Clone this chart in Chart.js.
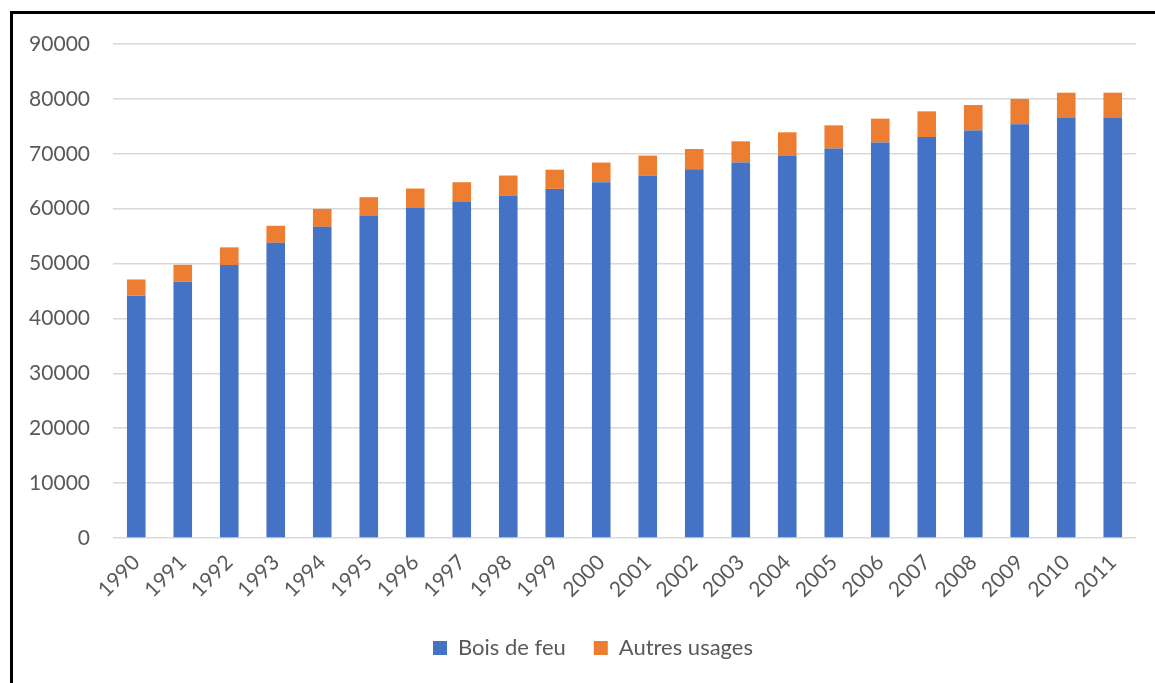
<!DOCTYPE html>
<html>
<head>
<meta charset="utf-8">
<script src="https://cdn.jsdelivr.net/npm/chart.js@4/dist/chart.umd.min.js"></script>
<style>
  html, body { margin: 0; padding: 0; background: #fff; }
  #wrap { position: relative; width: 1155px; height: 683px; overflow: hidden; }
  #frame { position: absolute; left: 10px; top: 11px; width: 1200px; height: 700px;
           border-top: 3px solid #000; border-left: 3px solid #000; }
  #c { position: absolute; left: 0; top: 0; }
</style>
</head>
<body>
<div id="wrap">
  <div id="frame"></div>
  <canvas id="c" width="1155" height="683"></canvas>
</div>
<script>
// années
const annees = ['1990','1991','1992','1993','1994','1995','1996','1997','1998','1999','2000',
                '2001','2002','2003','2004','2005','2006','2007','2008','2009','2010','2011'];

// valeurs
const boisDeFeu = [44150, 46690, 49730, 53780, 56690, 58690, 60150, 61240, 62400, 63600, 64820,
                   66040, 67180, 68400, 69670, 70950, 72040, 73060, 74220, 75360, 76510, 76510];
const autresUsages = [2950, 3090, 3220, 3100, 3270, 3400, 3520, 3580, 3640, 3500, 3580,
                      3630, 3690, 3870, 4240, 4230, 4360, 4670, 4660, 4640, 4620, 4620];

const yMax = 90000;
const yStep = 10000;

const gris = '#595959';
const police = { family: 'Lato, "Open Sans", sans-serif', size: 21 };

// decale la legende un peu a droite comme sur l'original
const decaleLegende = {
  id: 'decaleLegende',
  afterLayout(chart) {
    chart.legend.left += 50;
  }
};

const ctx = document.getElementById('c');
new Chart(ctx, {
  type: 'bar',
  data: {
    labels: annees,
    datasets: [
      { label: 'Bois de feu', data: boisDeFeu, backgroundColor: '#4472C4',
        categoryPercentage: 0.8, barPercentage: 0.5 },
      { label: 'Autres usages', data: autresUsages, backgroundColor: '#ED7D31',
        categoryPercentage: 0.8, barPercentage: 0.5 }
    ]
  },
  plugins: [decaleLegende],
  options: {
    responsive: false,
    animation: false,
    layout: { padding: { left: 0, right: 19, top: 44, bottom: 14 } },
    plugins: {
      tooltip: { enabled: false },
      legend: {
        position: 'bottom',
        labels: { color: gris, font: { family: police.family, size: 22 },
                  boxWidth: 14, boxHeight: 14, padding: 28 }
      }
    },
    scales: {
      x: {
        stacked: true,
        grid: { display: false },
        border: { display: false },
        ticks: { color: gris, font: police, maxRotation: 45, minRotation: 45, padding: 4 },
        afterFit: (s) => { s.height = 71; }
      },
      y: {
        stacked: true,
        min: 0,
        max: yMax,
        grid: { color: '#d9d9d9', lineWidth: 1.5, drawTicks: false },
        border: { display: false },
        ticks: { stepSize: yStep, color: gris, font: police, padding: 23,
                 callback: (v) => String(v) },
        afterFit: (s) => { s.width = 113; }
      }
    }
  }
});
</script>
</body>
</html>
